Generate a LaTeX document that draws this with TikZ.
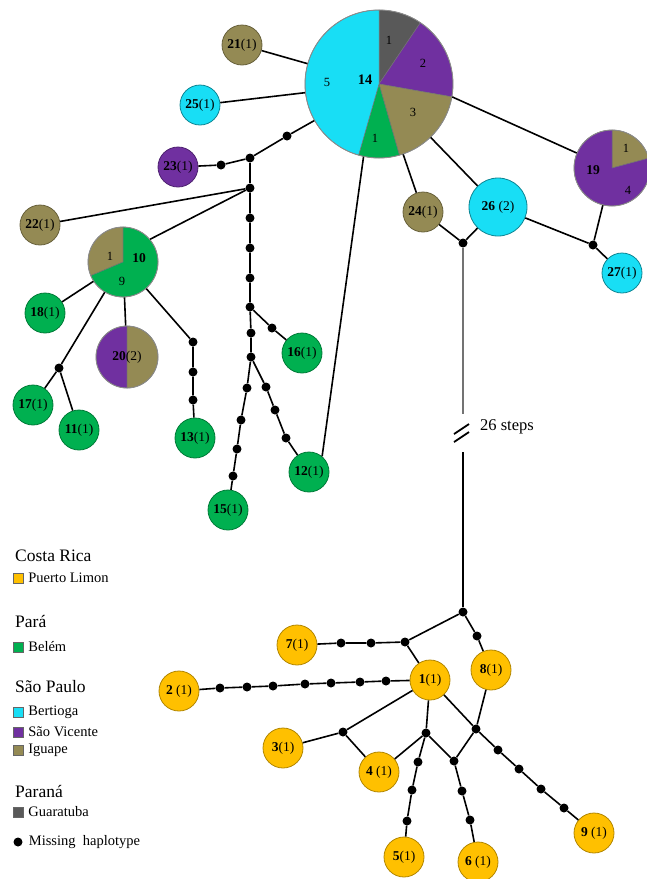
\documentclass[tikz,border=0pt]{standalone}
\usepackage{fontspec}
\setmainfont{Liberation Serif}
\usetikzlibrary{positioning}

\definecolor{cLimon}{RGB}{255,192,0}
\definecolor{cBelem}{RGB}{0,176,80}
\definecolor{cBertioga}{RGB}{24,222,245}
\definecolor{cVicente}{RGB}{112,48,160}
\definecolor{cIguape}{RGB}{148,138,84}
\definecolor{cGuaratuba}{RGB}{89,89,89}

% fatia de pizza: centro, raio, angulo inicial, angulo final, cor
\newcommand{\fatia}[5]{\fill[#5, draw=black!55, line width=0.5pt] (#1) -- ++(#3:#2) arc[start angle=#3, end angle=#4, radius=#2] -- cycle;}

\begin{document}
\begin{tikzpicture}[x=1pt, y=-1pt,
    hap/.style      = {circle, minimum size=40pt, inner sep=0pt, line width=0.8pt,
                       font=\fontsize{13.5}{14}\selectfont},
    limon/.style    = {hap, fill=cLimon, draw=cLimon!70!black},
    belem/.style    = {hap, fill=cBelem, draw=cBelem!70!black},
    bertioga/.style = {hap, fill=cBertioga, draw=cBertioga!60!black},
    vicente/.style  = {hap, fill=cVicente, draw=cVicente!70!black},
    iguape/.style   = {hap, fill=cIguape, draw=cIguape!70!black},
    pie/.style      = {circle, inner sep=0pt, draw=black!45, line width=0.8pt},
    rotulo/.style   = {inner sep=0pt, font=\fontsize{12.5}{13}\selectfont},
    mh/.style       = {circle, fill=black, inner sep=0pt, minimum size=9pt},
    rede/.style     = {line width=1.6pt},
    cab/.style      = {anchor=west, inner sep=0pt, font=\fontsize{17.5}{19}\selectfont},
    item/.style     = {anchor=west, inner sep=0pt, font=\fontsize{14.5}{16}\selectfont},
    quad/.style     = {rectangle, minimum size=10pt, inner sep=0pt, draw=black!60, line width=0.4pt},
]
\useasboundingbox (0,0) rectangle (646,879);

% Haplotipo 14
\coordinate (c14) at (379,84);
\fatia{c14}{74pt}{56}{90}{cGuaratuba}
\fatia{c14}{74pt}{-10}{56}{cVicente}
\fatia{c14}{74pt}{-74}{-10}{cIguape}
\fatia{c14}{74pt}{-106}{-74}{cBelem}
\fatia{c14}{74pt}{90}{254}{cBertioga}
\node[pie, minimum size=148pt] (p14) at (c14) {};
\node[rotulo] (r14a) at (389,40)  {1};
\node[rotulo] (r14b) at (423,63)  {2};
\node[rotulo] (r14c) at (413,112) {3};
\node[rotulo] (r14d) at (375,138) {1};
\node[rotulo] (r14e) at (327,82)  {5};
\node[rotulo, font=\fontsize{14.5}{15}\selectfont\bfseries] (r14) at (365,80) {14};

% Haplotipo 10
\coordinate (c10) at (123,262);
\fatia{c10}{35pt}{90}{203}{cIguape}
\fatia{c10}{35pt}{203}{450}{cBelem}
\node[pie, minimum size=70pt] (p10) at (c10) {};
\node[rotulo] (r10a) at (110,256) {1};
\node[rotulo, font=\fontsize{13.5}{14}\selectfont\bfseries] (r10) at (139,258) {10};
\node[rotulo] (r10b) at (122,281) {9};

% Haplotipo 19
\coordinate (c19) at (612,168);
\fatia{c19}{38pt}{15}{90}{cIguape}
\fatia{c19}{38pt}{90}{375}{cVicente}
\node[pie, minimum size=76pt] (p19) at (c19) {};
\node[rotulo] (r19a) at (626,148) {1};
\node[rotulo, font=\fontsize{13.5}{14}\selectfont\bfseries] (r19) at (593,170) {19};
\node[rotulo] (r19b) at (628,190) {4};

% Haplotipo 20
\coordinate (c20) at (127,357);
\fatia{c20}{31pt}{90}{270}{cVicente}
\fatia{c20}{31pt}{-90}{90}{cIguape}
\node[pie, minimum size=62pt, font=\fontsize{13.5}{14}\selectfont] (p20) at (c20) {\textbf{20}(2)};

% Haplotipos simples - Sao Paulo
\node[iguape]   (n21) at (242,45)  {\textbf{21}(1)};
\node[bertioga] (n25) at (200,105) {\textbf{25}(1)};
\node[vicente]  (n23) at (178,167) {\textbf{23}(1)};
\node[iguape]   (n22) at (40,225)  {\textbf{22}(1)};
\node[iguape]   (n24) at (423,212) {\textbf{24}(1)};
\node[bertioga, minimum size=58pt] (n26) at (498,207) {\textbf{26} (2)};
\node[bertioga] (n27) at (622,273) {\textbf{27}(1)};

% Haplotipos simples - Belem
\node[belem] (n18) at (45,313)  {\textbf{18}(1)};
\node[belem] (n17) at (33,405)  {\textbf{17}(1)};
\node[belem] (n11) at (79,430)  {\textbf{11}(1)};
\node[belem] (n13) at (195,438) {\textbf{13}(1)};
\node[belem] (n16) at (302,353) {\textbf{16}(1)};
\node[belem] (n15) at (228,510) {\textbf{15}(1)};
\node[belem] (n12) at (309,472) {\textbf{12}(1)};

% Haplotipos simples - Puerto Limon
\node[limon] (n7) at (297,645) {\textbf{7}(1)};
\node[limon] (n2) at (179,691) {\textbf{2} (1)};
\node[limon] (n1) at (430,680) {\textbf{1}(1)};
\node[limon] (n8) at (491,670) {\textbf{8}(1)};
\node[limon] (n3) at (283,748) {\textbf{3}(1)};
\node[limon] (n4) at (379,772) {\textbf{4} (1)};
\node[limon] (n5) at (404,857) {\textbf{5}(1)};
\node[limon] (n6) at (478,862) {\textbf{6} (1)};
\node[limon] (n9) at (594,833) {\textbf{9} (1)};

% Haplotipos ausentes
\node[mh] (m1)  at (287,136) {};
\node[mh] (m2)  at (250,158) {};
\node[mh] (m3)  at (221,165) {};
\node[mh] (m4)  at (250,188) {};
\node[mh] (m5)  at (250,218) {};
\node[mh] (m6)  at (250,248) {};
\node[mh] (m7)  at (250,278) {};
\node[mh] (m8)  at (250,307) {};
\node[mh] (m9)  at (251,333) {};
\node[mh] (m10) at (251,357) {};
\node[mh] (m11) at (272,328) {};
\node[mh] (m12) at (247,388) {};
\node[mh] (m13) at (241,420) {};
\node[mh] (m14) at (237,449) {};
\node[mh] (m15) at (233,476) {};
\node[mh] (m16) at (266,387) {};
\node[mh] (m17) at (275,410) {};
\node[mh] (m18) at (286,438) {};
\node[mh] (m19) at (59,368)  {};
\node[mh] (m20) at (193,342) {};
\node[mh] (m21) at (193,372) {};
\node[mh] (m22) at (193,400) {};
\node[mh] (m23) at (463,243) {};
\node[mh] (m24) at (593,245) {};
\node[mh] (m25) at (463,612) {};
\node[mh] (m26) at (405,642) {};
\node[mh] (m27) at (371,643) {};
\node[mh] (m28) at (341,643) {};
\node[mh] (m29) at (477,636) {};
\node[mh] (m30) at (220,688) {};
\node[mh] (m31) at (247,687) {};
\node[mh] (m32) at (273,686) {};
\node[mh] (m33) at (305,684) {};
\node[mh] (m34) at (331,683) {};
\node[mh] (m35) at (360,682) {};
\node[mh] (m36) at (386,681) {};
\node[mh] (m37) at (343,732) {};
\node[mh] (m38) at (426,733) {};
\node[mh] (m39) at (418,762) {};
\node[mh] (m40) at (412,790) {};
\node[mh] (m41) at (407,821) {};
\node[mh] (m42) at (454,761) {};
\node[mh] (m43) at (462,791) {};
\node[mh] (m44) at (470,820) {};
\node[mh] (m45) at (476,729) {};
\node[mh] (m46) at (498,750) {};
\node[mh] (m47) at (519,769) {};
\node[mh] (m48) at (541,789) {};
\node[mh] (m49) at (564,808) {};

% Ligacoes - grupo brasileiro
\draw[rede] (p14) -- (n21);
\draw[rede] (p14) -- (n25);
\draw[rede] (p14) -- (m1) -- (m2) -- (m3) -- (n23);
\draw[rede] (m2) -- (m4);
\draw[rede] (m4) -- (n22);
\draw[rede] (m4) -- (p10.40);
\draw[rede] (m4) -- (m5) -- (m6) -- (m7) -- (m8) -- (m9) -- (m10);
\draw[rede] (m8) -- (m11) -- (n16);
\draw[rede] (m10) -- (m12) -- (m13) -- (m14) -- (m15) -- (n15);
\draw[rede] (m10) -- (m16) -- (m17) -- (m18) -- (n12);
\draw[rede] (p14.-102) -- (n12.50);
\draw[rede] (p10) -- (n18);
\draw[rede] (p10) -- (m19);
\draw[rede] (m19) -- (n17);
\draw[rede] (m19) -- (n11);
\draw[rede] (p10) -- (p20);
\draw[rede] (p10) -- (m20) -- (m21) -- (m22) -- (n13);
\draw[rede] (p14) -- (n24);
\draw[rede] (p14) -- (n26);
\draw[rede] (p14.-10) -- (p19.157);
\draw[rede] (n24) -- (m23);
\draw[rede] (n26) -- (m23);
\draw[rede] (n26) -- (m24);
\draw[rede] (p19) -- (m24);
\draw[rede] (m24) -- (n27);

% Ligacao longa (26 passos)
\coordinate (corteA) at (463,414);
\coordinate (corteB) at (463,452);
\draw[rede, black!55] (m23) -- (corteA);
\draw[rede] (corteB) -- (m25);
\draw[line width=1.8pt] (454,434) -- (469,424);
\draw[line width=1.8pt] (454,442) -- (469,432);
\node[anchor=west, inner sep=0pt, font=\fontsize{16.5}{18}\selectfont] (passos) at (480,427) {26 steps};

% Ligacoes - Puerto Limon
\draw[rede] (m25) -- (m26) -- (m27) -- (m28) -- (n7);
\draw[rede] (m26) -- (n1);
\draw[rede] (m25) -- (m29) -- (n8);
\draw[rede] (n2) -- (m30) -- (m31) -- (m32) -- (m33) -- (m34) -- (m35) -- (m36) -- (n1);
\draw[rede] (n1) -- (m37);
\draw[rede] (m37) -- (n3);
\draw[rede] (m37) -- (n4);
\draw[rede] (n1) -- (m38);
\draw[rede] (m38) -- (n4);
\draw[rede] (m38) -- (m39) -- (m40) -- (m41) -- (n5);
\draw[rede] (m38) -- (m42) -- (m43) -- (m44) -- (n6);
\draw[rede] (n1) -- (m45);
\draw[rede] (m45) -- (n8);
\draw[rede] (m45) -- (m42);
\draw[rede] (m45) -- (m46) -- (m47) -- (m48) -- (m49) -- (n9);

% Legenda
\node[cab] (lcr) at (15,556) {Costa Rica};
\node[quad, fill=cLimon] (q1) at (18,578) {};
\node[item, right=5pt of q1] (l1) {Puerto Limon};
\node[cab] (lpa) at (15,621) {Pará};
\node[quad, fill=cBelem] (q2) at (18,647) {};
\node[item, right=5pt of q2] (l2) {Belém};
\node[cab] (lsp) at (15,687) {São Paulo};
\node[quad, fill=cBertioga] (q3) at (18,712) {};
\node[item, right=5pt of q3] (l3) {Bertioga};
\node[quad, fill=cVicente] (q4) at (18,732) {};
\node[item, right=5pt of q4] (l4) {São Vicente};
\node[quad, fill=cIguape] (q5) at (18,750) {};
\node[item, right=5pt of q5] (l5) {Iguape};
\node[cab] (lpr) at (15,791) {Paraná};
\node[quad, fill=cGuaratuba] (q6) at (18,812) {};
\node[item, right=5pt of q6] (l6) {Guaratuba};
\node[mh] (q7) at (18,842) {};
\node[item, right=6pt of q7] (l7) {Missing\ \ haplotype};

\end{tikzpicture}
\end{document}
